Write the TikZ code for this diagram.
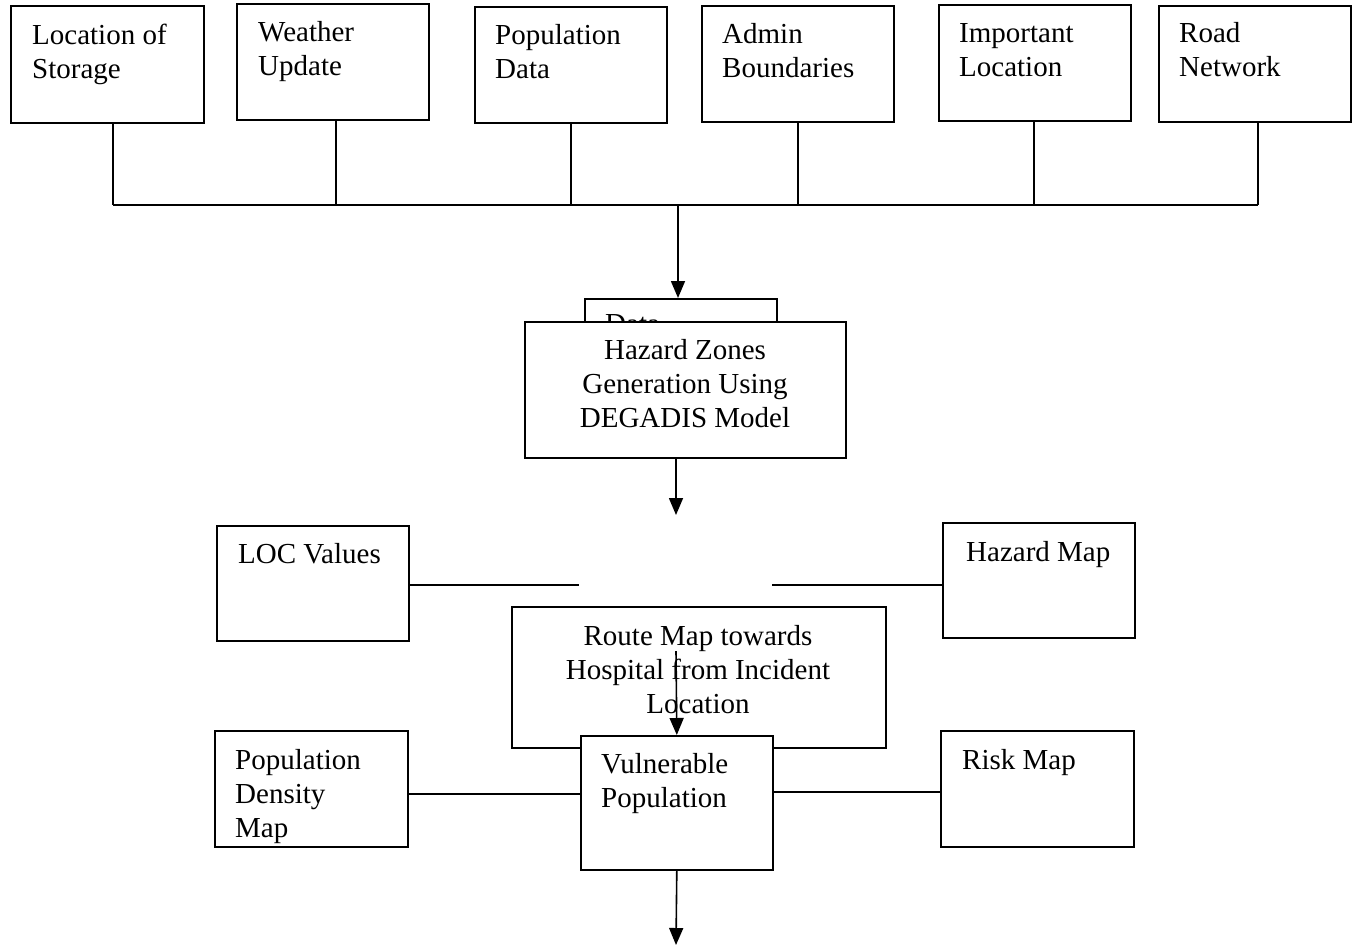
\documentclass[tikz,border=0pt]{standalone}
\usepackage{fontspec}
\setmainfont{Liberation Serif}
\usetikzlibrary{arrows.meta,calc}
\begin{document}
\begin{tikzpicture}[x=1pt,y=-1pt,
  box/.style={draw=black,line width=1.6pt,fill=white,anchor=north west,inner sep=0pt},
  txt/.style={anchor=north west,inner sep=0pt,align=left,font=\fontsize{29}{34}\selectfont},
  ctxt/.style={anchor=north,inner sep=0pt,align=center,font=\fontsize{29}{34}\selectfont},
  conn/.style={line width=1.6pt},
  arr/.style={line width=1.6pt,-{Triangle[width=14pt,length=17pt]}}]
\useasboundingbox (0,0) rectangle (1356,948);
% top row
\node[box,minimum width=193,minimum height=117] (b1) at (10,5) {};
\node[txt] (t1) at (32,20) {\strut Location of\\Storage};
\node[box,minimum width=192,minimum height=116] (b2) at (236,3) {};
\node[txt] (t2) at (258,17) {\strut Weather\\Update};
\node[box,minimum width=192,minimum height=116] (b3) at (474,6) {};
\node[txt] (t3) at (495,20) {\strut Population\\Data};
\node[box,minimum width=192,minimum height=116] (b4) at (701,5) {};
\node[txt] (t4) at (722,19) {\strut Admin\\Boundaries};
\node[box,minimum width=192,minimum height=116] (b5) at (938,4) {};
\node[txt] (t5) at (959,18) {\strut Important\\Location};
\node[box,minimum width=192,minimum height=116] (b6) at (1158,5) {};
\node[txt] (t6) at (1179,18) {\strut Road\\Network};
% bus
\coordinate (bus) at (678,205);
\foreach \b/\dx in {b1/5.5,b2/3,b3/0,b4/0,b5/-1,b6/3}{
  \draw[conn] ([xshift=\dx pt]\b.south) -- ([xshift=\dx pt]\b.south |- bus);
}
\draw[conn] ([xshift=5.5pt]b1.south |- bus) -- ([xshift=3pt]b6.south |- bus);
% data box (behind)
\node[box,minimum width=192,minimum height=120] (data) at (584,298) {};
\node[txt] (tdata) at (605,309) {\strut Data};
\draw[arr] (bus) -- (bus |- data.north);
% hazard zones
\node[box,minimum width=321,minimum height=136] (haz) at (524,321) {};
\node[ctxt] (thaz) at (685,335) {\strut Hazard Zones\\Generation Using\\DEGADIS Model};
\coordinate (gap) at (676,515);
\draw[arr] (gap |- haz.south) -- (gap);
% middle row
\node[box,minimum width=192,minimum height=115] (loc) at (216,525) {};
\node[txt] (tloc) at (238,539) {\strut LOC Values};
\node[box,minimum width=192,minimum height=115] (hmap) at (942,522) {};
\node[txt] (thmap) at (966,537) {\strut Hazard Map};
\coordinate (gapL) at (579,585);
\coordinate (gapR) at (772,585);
\draw[conn] (loc.east |- gapL) -- (gapL);
\draw[conn] (gapR) -- (hmap.west |- gapR);
% route map
\node[box,minimum width=374,minimum height=141] (route) at (511,606) {};
\node[ctxt] (troute) at (698,621) {\strut Route Map towards\\Hospital from Incident\\Location};
% vulnerable
\node[box,minimum width=192,minimum height=134] (vul) at (580,735) {};
\node[txt] (tvul) at (601,749) {\strut Vulnerable\\Population};
\coordinate (rs) at (676,651);
\draw[arr] (rs) -- (vul.north);
% bottom row
\node[box,minimum width=193,minimum height=116] (pop) at (214,730) {};
\node[txt] (tpop) at (235,745) {\strut Population\\Density\\Map};
\node[box,minimum width=193,minimum height=116] (risk) at (940,730) {};
\node[txt] (trisk) at (962,745) {\strut Risk Map};
\draw[conn] (pop.east |- 0,794) -- (vul.west |- 0,794);
\draw[conn] (vul.east |- 0,792) -- (risk.west |- 0,792);
\coordinate (end) at (676,945);
\draw[arr] (vul.south) -- (end);
\end{tikzpicture}
\end{document}
